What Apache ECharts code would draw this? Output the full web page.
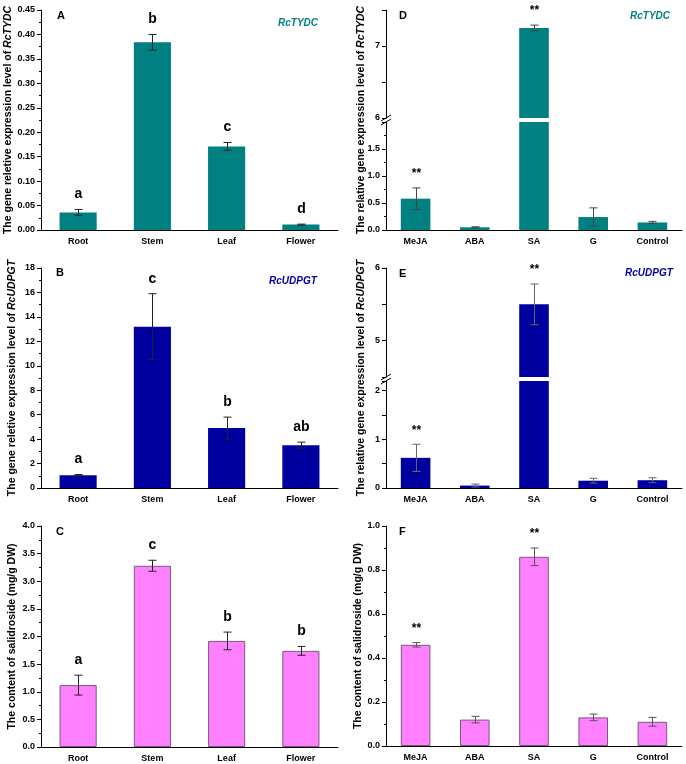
<!DOCTYPE html>
<html>
<head>
<meta charset="utf-8">
<title>RcTYDC / RcUDPGT / salidroside</title>
<script src="https://cdn.jsdelivr.net/npm/echarts@6/dist/echarts.min.js"></script>
<style>
	body { margin: 0; background: #fff; }
	#chart { width: 686px; height: 764px; }
</style>
</head>
<body>
<div id="chart"></div>
<script>
// categories
const tissues = ['Root', 'Stem', 'Leaf', 'Flower']
const treatments = ['MeJA', 'ABA', 'SA', 'G', 'Control']

// A - RcTYDC in tissues
const tydcTissue = [0.036, 0.384, 0.171, 0.011]
const tydcTissueErr = [0.006, 0.016, 0.008, 0.001]
const tydcTissueSig = ['a', 'b', 'c', 'd']

// B - RcUDPGT in tissues
const udpgtTissue = [1.05, 13.2, 4.9, 3.5]
const udpgtTissueErr = [0.05, 2.7, 0.9, 0.25]
const udpgtTissueSig = ['a', 'c', 'b', 'ab']

// C - salidroside in tissues
const salTissue = [1.12, 3.28, 1.92, 1.74]
const salTissueErr = [0.18, 0.1, 0.16, 0.08]
const salTissueSig = ['a', 'c', 'b', 'b']

// D - RcTYDC under treatments
const tydcTreat = [0.58, 0.05, 7.25, 0.24, 0.14]
const tydcTreatErr = [0.2, 0.01, 0.04, 0.17, 0.02]
const tydcTreatSig = ['**', '', '**', '', '']

// E - RcUDPGT under treatments
const udpgtTreat = [0.62, 0.05, 5.5, 0.15, 0.16]
const udpgtTreatErr = [0.28, 0.03, 0.28, 0.05, 0.05]
const udpgtTreatSig = ['**', '', '**', '', '']

// F - salidroside under treatments
const salTreat = [0.46, 0.12, 0.86, 0.13, 0.11]
const salTreatErr = [0.01, 0.015, 0.04, 0.015, 0.02]
const salTreatSig = ['**', '', '**', '', '']

const teal = '#008080'
const blue = '#0000a0'
const pink = '#ff80ff'
const font = 'Liberation Sans'
const nameSize = 10.5

var grids = [], xAxes = [], yAxes = [], series = []

function addGrid(left, top, width, height) {
	grids.push({ left: left, top: top, width: width, height: height, outerBoundsMode: 'none' })
	return grids.length - 1
}

// category axis; the visible one gets a 2nd axis for the small ticks between bars
function addX(gi, cats, show) {
	xAxes.push({
		type: 'category', gridIndex: gi, data: cats, show: show, position: 'bottom',
		axisLine: { lineStyle: { color: '#000', width: 1 } },
		axisTick: { alignWithLabel: true, length: 4, lineStyle: { color: '#000' } },
		axisLabel: { color: '#000', fontSize: 9, fontWeight: 'bold', fontFamily: font, margin: 7 }
	})
	const idx = xAxes.length - 1
	if (show) {
		xAxes.push({
			type: 'category', gridIndex: gi, data: cats, position: 'bottom',
			axisLine: { show: false },
			axisTick: { length: 2, lineStyle: { color: '#000' } },
			axisLabel: { show: false }
		})
	}
	return idx
}

function addY(gi, min, max, interval, fmt, minor) {
	yAxes.push({
		type: 'value', gridIndex: gi, min: min, max: max, interval: interval,
		axisLine: { show: true, lineStyle: { color: '#000', width: 1 } },
		axisTick: { show: true, length: 4, lineStyle: { color: '#000' } },
		minorTick: { show: minor, splitNumber: 2, length: 2, lineStyle: { color: '#000' } },
		splitLine: { show: false },
		axisLabel: { color: '#000', fontSize: 9, fontWeight: 'bold', fontFamily: font, margin: 6, formatter: fmt }
	})
	return yAxes.length - 1
}

function setName(yi, name, gap) {
	yAxes[yi].name = name
	yAxes[yi].nameLocation = 'middle'
	yAxes[yi].nameGap = gap
	yAxes[yi].nameTextStyle = nameStyle()
}

// axis only used for the rotated title
function addNameY(gi, name, gap) {
	yAxes.push({
		type: 'value', gridIndex: gi, min: 0, max: 1,
		axisLine: { show: false }, axisTick: { show: false }, axisLabel: { show: false }, splitLine: { show: false }
	})
	setName(yAxes.length - 1, name, gap)
}

function nameStyle() {
	return {
		color: '#000', fontSize: nameSize, fontWeight: 'bold', fontFamily: font,
		rich: {
			a: { color: '#000', fontSize: nameSize, fontWeight: 'bold', fontFamily: font },
			b: { color: '#000', fontSize: nameSize, fontWeight: 'bold', fontStyle: 'italic', fontFamily: font }
		}
	}
}

function errRender(errs, marks, color, markSize) {
	return function (params, api) {
		const cs = params.coordSys
		const v = api.value(1)
		const mid = api.coord([api.value(0), v])
		// only draw in the segment that holds the bar top
		if (mid[1] < cs.y - 0.5 || mid[1] > cs.y + cs.height + 0.5) return
		const e = errs[params.dataIndex]
		const hi = api.coord([api.value(0), v + e])
		const lo = api.coord([api.value(0), v - e])
		const x = Math.round(mid[0]) + 0.5
		const st = { stroke: color, lineWidth: 1 }
		const kids = [
			{ type: 'line', shape: { x1: x, y1: hi[1], x2: x, y2: lo[1] }, style: st },
			{ type: 'line', shape: { x1: x - 4, y1: hi[1], x2: x + 4, y2: hi[1] }, style: st },
			{ type: 'line', shape: { x1: x - 4, y1: lo[1], x2: x + 4, y2: lo[1] }, style: st }
		]
		const m = marks[params.dataIndex]
		if (m) {
			kids.push({
				type: 'text',
				style: {
					text: m, x: x, y: hi[1] - 8, align: 'center', verticalAlign: 'bottom',
					font: 'bold ' + markSize + 'px ' + font, fill: '#000'
				}
			})
		}
		return { type: 'group', children: kids }
	}
}

function addBars(xi, yi, vals, errs, marks, color, border, errColor, markSize) {
	series.push({
		type: 'bar', xAxisIndex: xi, yAxisIndex: yi, data: vals, barWidth: '50%', clip: true,
		itemStyle: { color: color, borderColor: border, borderWidth: border ? 1 : 0 }
	})
	series.push({
		type: 'custom', xAxisIndex: xi, yAxisIndex: yi, z: 10,
		data: vals.map((v, i) => [i, v]),
		renderItem: errRender(errs, marks, errColor, markSize)
	})
}

const fix2 = v => v.toFixed(2)
const fix1 = v => v.toFixed(1)
const int = v => Math.abs(v - Math.round(v)) < 1e-6 ? String(Math.round(v)) : ''

// A
let g = addGrid(41, 10, 297, 220)
let xi = addX(g, tissues, true)
let yi = addY(g, 0, 0.45, 0.05, fix2, true)
setName(yi, '{a|The gene reletive expression level of }{b|RcTYDC}', 23)
addBars(xi, yi, tydcTissue, tydcTissueErr, tydcTissueSig, teal, null, '#222', 14)

// D (broken axis: two grids)
g = addGrid(386, 10, 296, 108)
xi = addX(g, treatments, false)
yi = addY(g, 6, 7.5, 0.5, int, false)
addBars(xi, yi, tydcTreat, tydcTreatErr, tydcTreatSig, teal, null, '#444', 12)
g = addGrid(386, 122, 296, 108)
xi = addX(g, treatments, true)
yi = addY(g, 0, 2, 0.5, v => v < 1.9 ? v.toFixed(1) : '', true)
addBars(xi, yi, tydcTreat, tydcTreatErr, tydcTreatSig, teal, null, '#444', 12)
g = addGrid(386, 10, 296, 220)
addX(g, treatments, false)
addNameY(g, '{a|The relative gene expression level of }{b|RcTYDC}', 19)

// B
g = addGrid(41, 268, 297, 220)
xi = addX(g, tissues, true)
yi = addY(g, 0, 18, 2, int, true)
setName(yi, '{a|The gene reletive expression level of }{b|RcUDPGT}', 23)
addBars(xi, yi, udpgtTissue, udpgtTissueErr, udpgtTissueSig, blue, null, '#222', 14)

// E (broken axis)
g = addGrid(386, 268, 296, 109)
xi = addX(g, treatments, false)
yi = addY(g, 4.5, 6, 0.5, int, false)
addBars(xi, yi, udpgtTreat, udpgtTreatErr, udpgtTreatSig, blue, null, '#666', 12)
g = addGrid(386, 381, 296, 107)
xi = addX(g, treatments, true)
yi = addY(g, 0, 2.2, 0.5, v => v < 2.1 ? int(v) : '', false)
addBars(xi, yi, udpgtTreat, udpgtTreatErr, udpgtTreatSig, blue, null, '#666', 12)
g = addGrid(386, 268, 296, 220)
addX(g, treatments, false)
addNameY(g, '{a|The relative gene expression level of }{b|RcUDPGT}', 19)

// C
g = addGrid(41, 526, 297, 221)
xi = addX(g, tissues, true)
yi = addY(g, 0, 4, 0.5, fix1, true)
setName(yi, 'The content of salidroside (mg/g DW)', 23)
addBars(xi, yi, salTissue, salTissueErr, salTissueSig, pink, '#7a5a7a', '#222', 14)

// F
g = addGrid(386, 526, 296, 220)
xi = addX(g, treatments, true)
yi = addY(g, 0, 1, 0.2, fix1, true)
setName(yi, 'The content of salidroside (mg/g DW)', 19)
addBars(xi, yi, salTreat, salTreatErr, salTreatSig, pink, '#7a5a7a', '#555', 12)

// panel letters and gene names
function label(text, left, top, size, color, italic) {
	return {
		text: text, left: left, top: top, padding: 0,
		textStyle: { fontSize: size, fontWeight: 'bold', fontStyle: italic ? 'italic' : 'normal', color: color, fontFamily: font }
	}
}
const titles = [
	label('A', 57, 10, 11, '#000'), label('D', 399, 10, 11, '#000'),
	label('B', 56, 267, 11, '#000'), label('E', 399, 268, 11, '#000'),
	label('C', 56, 526, 11, '#000'), label('F', 399, 526, 11, '#000'),
	label('RcTYDC', 278, 18, 10, teal, true), label('RcTYDC', 630, 11, 10, teal, true),
	label('RcUDPGT', 269, 276, 10, blue, true), label('RcUDPGT', 625, 268, 10, blue, true)
]

// break marks on the broken y axes
function breakMark(x, y) {
	const st = { stroke: '#000', lineWidth: 1 }
	return [
		{ type: 'line', shape: { x1: x - 5, y1: y + 1, x2: x + 5, y2: y - 5 }, style: st },
		{ type: 'line', shape: { x1: x - 5, y1: y + 5, x2: x + 5, y2: y - 1 }, style: st }
	]
}

var myChart = echarts.init(document.getElementById('chart'))
myChart.setOption({
	animation: false,
	backgroundColor: '#fff',
	title: titles,
	grid: grids,
	xAxis: xAxes,
	yAxis: yAxes,
	series: series,
	graphic: breakMark(386, 120).concat(breakMark(386, 379))
})
</script>
</body>
</html>
